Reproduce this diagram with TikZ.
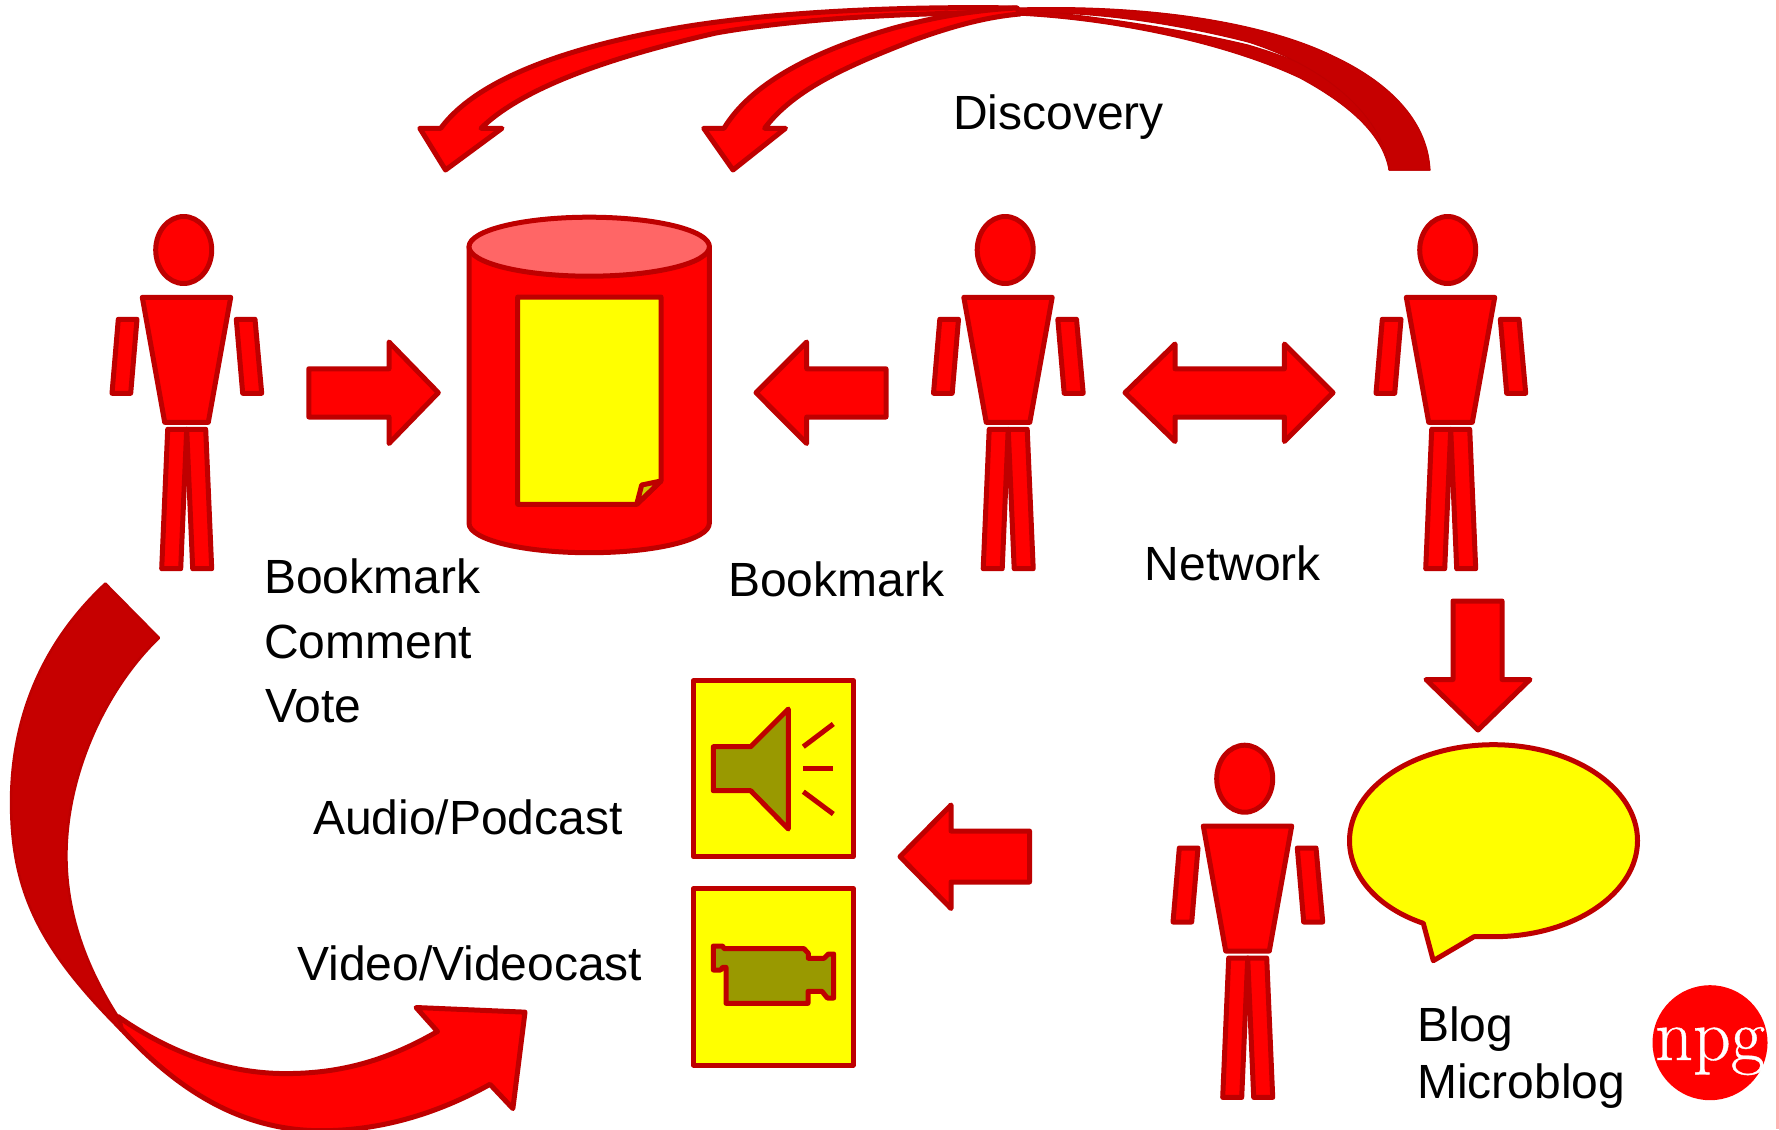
\documentclass[tikz,border=0pt]{standalone}
\usepackage{fontspec}
\setmainfont{Liberation Sans}
\newfontfamily\logofont[FakeBold=0.5]{Latin Modern Roman}
\definecolor{edgered}{HTML}{BE0000}
\definecolor{tailred}{HTML}{C60000}
\definecolor{purered}{HTML}{FF0000}
\definecolor{pureyellow}{HTML}{FFFF00}
\definecolor{capred}{HTML}{FF6666}
\definecolor{olivefill}{HTML}{999900}
\definecolor{foldfill}{HTML}{CCCC00}
\definecolor{pinkedge}{HTML}{FFB3B3}
\tikzset{
  shapered/.style={draw=edgered,fill=purered,line width=5pt,line join=round},
  shapedark/.style={draw=edgered,fill=tailred,line width=1pt,line join=round},
  shapeyellow/.style={draw=edgered,fill=pureyellow,line width=5pt,line join=round},
  shapeolive/.style={draw=edgered,fill=olivefill,line width=5pt,line join=round},
  label/.style={anchor=base west,inner sep=0pt,font=\fontsize{48}{48}\selectfont,text=black},
  pics/person/.style={code={
    \draw[shapered] (183.7,250) ellipse [x radius=28,y radius=33.5];
    \draw[shapered] (142.3,297.3) -- (230.7,297.3) -- (208.3,422.3) -- (164.7,422.3) -- cycle;
    \draw[shapered] (118.3,319.3) -- (137,319.3) -- (130.7,393.3) -- (112,393.3) -- cycle;
    \draw[shapered] (236.3,319.3) -- (255,319.3) -- (261.7,393.3) -- (242.7,393.3) -- cycle;
    \draw[shapered] (167.7,429.3) -- (186.7,429.3) -- (180.7,568.7) -- (161.7,568.7) -- cycle;
    \draw[shapered] (186.7,429.3) -- (205.7,429.3) -- (211.7,568.7) -- (192.7,568.7) -- cycle;
  }}
}
\begin{document}
\begin{tikzpicture}[x=1pt,y=-1pt]
\useasboundingbox (0,0) rectangle (1779,1129);
\fill[white] (0,0) rectangle (1779,1129);
\fill[pinkedge] (1776,0) rectangle (1779,1129);

% people
\pic at (0,0) {person};
\pic at (821.5,0) {person};
\pic at (1264,0) {person};
\pic at (1061,528.7) {person};

% cylinder
\draw[shapered] (469,246.7) -- (469,523.3) .. controls (469,539.6) and (522.7,552.7) .. (589.2,552.7) .. controls (655.7,552.7) and (709.3,539.6) .. (709.3,523.3) -- (709.3,246.7) -- cycle;
\draw[shapered,fill=capred] (589.2,246.7) ellipse [x radius=120.2,y radius=29.5];
\draw[shapeyellow] (517.7,297) -- (661,297) -- (661,481) -- (636.7,504.3) -- (517.7,504.3) -- cycle;
\draw[shapeyellow,fill=foldfill] (661,481) -- (641.7,485) -- (636.7,504.3) -- cycle;

% block arrows
\draw[shapered] (308.8,368.8) -- (389,368.8) -- (389,342) -- (438.3,392.7) -- (389,443.5) -- (389,417) -- (308.8,417) -- cycle;
\draw[shapered] (886,368.8) -- (806.7,368.8) -- (806.7,342) -- (756,392.7) -- (806.7,443.5) -- (806.7,417) -- (886,417) -- cycle;
\draw[shapered] (1125,392.7) -- (1175,344) -- (1175,368.8) -- (1284.4,368.8) -- (1284.4,344) -- (1333,392.7) -- (1284.4,441.5) -- (1284.4,417) -- (1175,417) -- (1175,441.5) -- cycle;
\draw[shapered] (1453,601) -- (1502,601) -- (1502,679.5) -- (1530,679.5) -- (1478,730) -- (1426,679.5) -- (1453,679.5) -- cycle;
\draw[shapered] (1029.5,831) -- (951,831) -- (951,805) -- (900,856.6) -- (951,908.5) -- (951,882) -- (1029.5,882) -- cycle;

% media boxes
\draw[shapeyellow] (693.3,680.7) rectangle (853.3,856.7);
\draw[shapeyellow] (693.3,888.7) rectangle (853.3,1065);
\draw[shapeolive] (713.3,746.7) -- (750.7,746.7) -- (788.3,709) -- (788.3,829) -- (750.7,790.7) -- (713.3,790.7) -- cycle;
\draw[edgered,line width=5pt] (803.3,746.7) -- (833.3,724);
\draw[edgered,line width=5pt] (803.3,768.7) -- (833.3,768.7);
\draw[edgered,line width=5pt] (803.3,791.7) -- (833.3,814);
\begin{scope}[shift={(680,670)},x=0.33333pt,y=-0.33333pt]
\draw[shapeolive] (100,828) -- (128,828) -- (132,836) -- (372,836) -- (385,850) -- (385,865) -- (432,865) -- (445,852) -- (461,852) -- (461,984) -- (442,984) -- (426,964) -- (384,964) -- (384,1000) -- (138,1000) -- (138,892) -- (128,892) -- (122,900) -- (100,900) -- cycle;
\end{scope}

% speech bubble
\draw[shapeyellow] (1433.3,960.7) -- (1474,936.7) -- (1493.5,936.7) .. controls (1573,936.7) and (1637.5,893.7) .. (1637.5,840.7) .. controls (1637.5,787.7) and (1573,744.7) .. (1493.5,744.7) .. controls (1414,744.7) and (1349.5,787.7) .. (1349.5,840.7) .. controls (1349.5,876) and (1378,908) .. (1423.3,923.3) -- cycle;

% big curved arrow, lower left
\begin{scope}[shift={(0,570)},x=0.35714pt,y=-0.35714pt]
\draw[shapered] (330,1250) .. controls (480,1355) and (640,1410) .. (800,1410) .. controls (960,1410) and (1090,1370) .. (1225,1292) -- (1165,1225) -- (1470,1238) -- (1436,1508) -- (1372,1440) .. controls (1220,1525) and (1060,1570) .. (900,1570) .. controls (680,1570) and (500,1460) .. (340,1285) -- cycle;
\draw[shapedark,line width=2.5pt] (295,38) .. controls (100,220) and (31,440) .. (31,650) .. controls (31,900) and (110,1060) .. (340,1290) -- (330,1250) .. controls (240,1110) and (186,960) .. (186,800) .. controls (186,580) and (290,340) .. (445,190) -- cycle;
\end{scope}

% curved arrows, top: each is a red head and a dark tail
\draw[shapered] (445.5,170) -- (502,128.3) -- (481,128.3) .. controls (525,85) and (620,55) .. (716,33) .. controls (800,18) and (920,12) .. (1017,13) -- (1017,8) .. controls (900,6) and (770,12) .. (677,28) .. controls (580,45) and (480,75) .. (440.7,128.3) -- (419.8,128.3) -- cycle;
\draw[shapedark] (1017,9) .. controls (1100,16) and (1190,31) .. (1248,45) .. controls (1340,72) and (1420,120) .. (1430,170) -- (1389,170) .. controls (1383,135) and (1350,105) .. (1300,78) .. controls (1230,45) and (1120,20) .. (1017,15) -- cycle;
\draw[shapered] (733,170) -- (785.5,128.3) -- (764.6,128.3) .. controls (795,88) and (850,65) .. (914,40) .. controls (950,27) and (985,17) .. (1020,14) -- (1017,8) .. controls (975,10) and (935,17) .. (894,28) .. controls (810,52) and (750,85) .. (724,128.3) -- (703.7,128.3) -- cycle;
\draw[shapedark] (1017,8) .. controls (1160,4) and (1270,25) .. (1333,56) .. controls (1395,85) and (1428,125) .. (1430,170) -- (1389,170) .. controls (1385,120) and (1330,68) .. (1248,42) .. controls (1150,17) and (1060,10) .. (1020,14) -- cycle;

% logo
\fill[purered] (1710,1042.7) circle [radius=57.5];
\node[anchor=base,inner sep=0pt,text=white,font=\logofont\fontsize{74}{74}\selectfont] (logo) at (1710,1060) {npg};

% labels
\node[label] (discovery) at (953,129) {Discovery};
\node[label] (bookmarka) at (264,593) {Bookmark};
\node[label] (comment) at (264,658) {Comment};
\node[label] (vote) at (265,722) {Vote};
\node[label] (bookmarkb) at (728,596) {Bookmark};
\node[label] (network) at (1144.5,580) {Network};
\node[label] (audio) at (313,834) {Audio/Podcast};
\node[label] (video) at (297,980) {Video/Videocast};
\node[label] (blog) at (1417,1041) {Blog};
\node[label] (microblog) at (1417,1098) {Microblog};
\end{tikzpicture}
\end{document}
